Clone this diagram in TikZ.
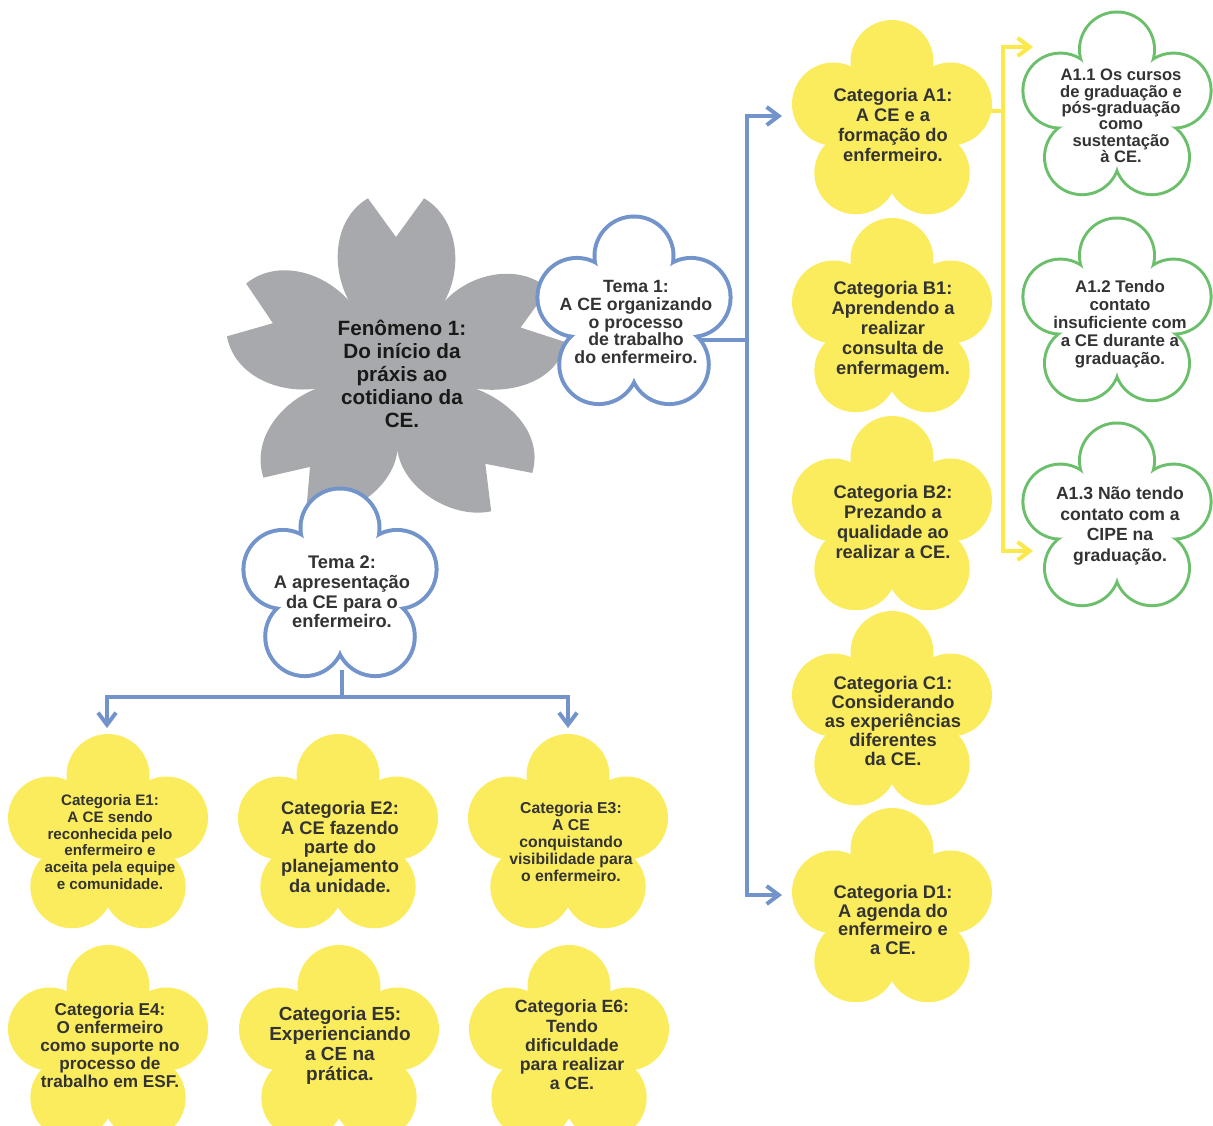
\documentclass[tikz,border=0pt]{standalone}
\usepackage{fontspec}
\setmainfont{Liberation Sans}
\usepackage{tikz}
\usetikzlibrary{arrows.meta,calc,positioning}
\definecolor{petalyellow}{HTML}{FBEC5D}
\definecolor{temablue}{HTML}{7294CB}
\definecolor{subgreen}{HTML}{6BBF6B}
\definecolor{fengray}{HTML}{A7A9AC}
\definecolor{lineyellow}{HTML}{FBE84A}
\definecolor{txtgray}{HTML}{333333}

\begin{document}
\begin{tikzpicture}[x=0.025cm,y=-0.025cm,
  yflower/.pic={\fill[petalyellow] (0,0) circle (55);
    \foreach \a in {-90,-18,54,126,198} \fill[petalyellow] (\a:61.5) circle (41.5);},
  bflower/.pic={\foreach \a in {-90,-18,54,126,198} \draw[temablue,line width=0.2cm] (\a:60) circle (37.5);
    \fill[white] (0,0) circle (50);
    \foreach \a in {-90,-18,54,126,198} \fill[white] (\a:60) circle (37.5);},
  gflower/.pic={\foreach \a in {-90,-18,54,126,198} \draw[subgreen,line width=0.15cm] (\a:59.5) circle (36);
    \fill[white] (0,0) circle (50);
    \foreach \a in {-90,-18,54,126,198} \fill[white] (\a:59.5) circle (36);},
  lbl/.style={align=center,text=txtgray},
  bline/.style={temablue,line width=0.1cm},
  yline/.style={lineyellow,line width=0.1cm},
  toarrow/.style={-{Straight Barb[length=0.3cm,width=0.45cm]}},
]
\useasboundingbox (0,0) rectangle (1213,1126);

\begin{scope}[shift={(396,368)}]
\fill[fengray] (-125:82) \foreach \a/\l/\r in {-90/-125/-54,-18/-54/14.5,47/14.5/89,131/89/165.5,200/165.5/235}{
  .. controls (\l+2:121) and (\a-22.5:162) .. (\a-9.4:172) -- (\a:131) -- (\a+9.4:172)
  .. controls (\a+22.5:162) and (\r-2:121) .. (\r:82)} -- cycle;
\end{scope}
\node[align=center,text=black!90,font=\bfseries\fontsize{14.7}{16.3}\selectfont] (fen) at (402,374) {Fenômeno 1:\\Do início da\\práxis ao\\cotidiano da\\CE.};

\coordinate (t1out) at (700,340);
\coordinate (trunk) at (747,340);
\coordinate (a1in) at (782,116);
\coordinate (d1in) at (782,895);
\draw[bline] (t1out) -- (trunk);
\draw[bline,toarrow] (trunk) |- (a1in);
\draw[bline,toarrow] (trunk) |- (d1in);

\coordinate (t2out) at (342,670);
\coordinate (t2bar) at (342,697);
\coordinate (e1in) at (107,728);
\coordinate (e3in) at (568,728);
\draw[bline] (t2out) -- (t2bar);
\draw[bline,toarrow] (t2bar) -| (e1in);
\draw[bline,toarrow] (t2bar) -| (e3in);

\coordinate (a1out) at (985,111);
\coordinate (ybar) at (1003,111);
\coordinate (a11in) at (1033,47);
\coordinate (a13in) at (1033,551);
\draw[yline] (a1out) -- (ybar);
\draw[yline,toarrow] (ybar) |- (a11in);
\draw[yline,toarrow] (ybar) |- (a13in);

\pic at (634,316) {bflower};
\pic at (340,588) {bflower};
\pic at (892,123) {yflower};
\pic at (892,321) {yflower};
\pic at (892,519) {yflower};
\pic at (892,714) {yflower};
\pic at (892,911) {yflower};
\pic at (1117,109) {gflower};
\pic at (1117,315) {gflower};
\pic at (1117,520) {gflower};
\pic at (108,837) {yflower};
\pic at (338,837) {yflower};
\pic at (568,837) {yflower};
\pic at (108,1048) {yflower};
\pic at (339,1048) {yflower};
\pic at (569,1048) {yflower};

\node[lbl,font=\bfseries\fontsize{12.6}{12.6}\selectfont] (tema1) at (636,322) {Tema 1:\\A CE organizando\\o processo\\de trabalho\\do enfermeiro.};
\node[lbl,font=\bfseries\fontsize{13}{14}\selectfont] (tema2) at (342,592) {Tema 2:\\A apresentação\\da CE para o\\enfermeiro.};
\node[lbl,font=\bfseries\fontsize{13}{14.2}\selectfont] (a1) at (893,125) {Categoria A1:\\A CE e a\\formação do\\enfermeiro.};
\node[lbl,font=\bfseries\fontsize{13}{14.2}\selectfont] (b1) at (893,330) {Categoria B1:\\Aprendendo a\\realizar\\consulta de\\enfermagem.};
\node[lbl,font=\bfseries\fontsize{13}{14.2}\selectfont] (b2) at (893,522) {Categoria B2:\\Prezando a\\qualidade ao\\realizar a CE.};
\node[lbl,font=\bfseries\fontsize{13}{13.6}\selectfont] (c1) at (893,721) {Categoria C1:\\Considerando\\as experiências\\diferentes\\da CE.};
\node[lbl,font=\bfseries\fontsize{13}{13.3}\selectfont] (d1) at (893,920) {Categoria D1:\\A agenda do\\enfermeiro e\\a CE.};
\node[lbl,font=\bfseries\fontsize{11.8}{11.6}\selectfont] (a11) at (1121,116) {A1.1 Os cursos\\de graduação e\\pós-graduação\\como\\sustentação\\à CE.};
\node[lbl,font=\bfseries\fontsize{12}{12.9}\selectfont] (a12) at (1120,324) {A1.2 Tendo\\contato\\insuficiente com\\a CE durante a\\graduação.};
\node[lbl,font=\bfseries\fontsize{12.5}{14.9}\selectfont] (a13) at (1120,526) {A1.3 Não tendo\\contato com a\\CIPE na\\graduação.};
\node[lbl,font=\bfseries\fontsize{10.8}{12}\selectfont] (e1) at (110,842) {Categoria E1:\\A CE sendo\\reconhecida pelo\\enfermeiro e\\aceita pela equipe\\e comunidade.};
\node[lbl,font=\bfseries\fontsize{13}{13.8}\selectfont] (e2) at (340,847) {Categoria E2:\\A CE fazendo\\parte do\\planejamento\\da unidade.};
\node[lbl,font=\bfseries\fontsize{11.2}{12}\selectfont] (e3) at (571,842) {Categoria E3:\\A CE\\conquistando\\visibilidade para\\o enfermeiro.};
\node[lbl,font=\bfseries\fontsize{12.2}{12.8}\selectfont] (e4) at (110,1045) {Categoria E4:\\O enfermeiro\\como suporte no\\processo de\\trabalho em ESF.};
\node[lbl,font=\bfseries\fontsize{13.5}{14.2}\selectfont] (e5) at (340,1046) {Categoria E5:\\Experienciando\\a CE na\\prática.};
\node[lbl,font=\bfseries\fontsize{12.6}{13.7}\selectfont] (e6) at (572,1045) {Categoria E6:\\Tendo\\dificuldade\\para realizar\\a CE.};
\end{tikzpicture}
\end{document}
